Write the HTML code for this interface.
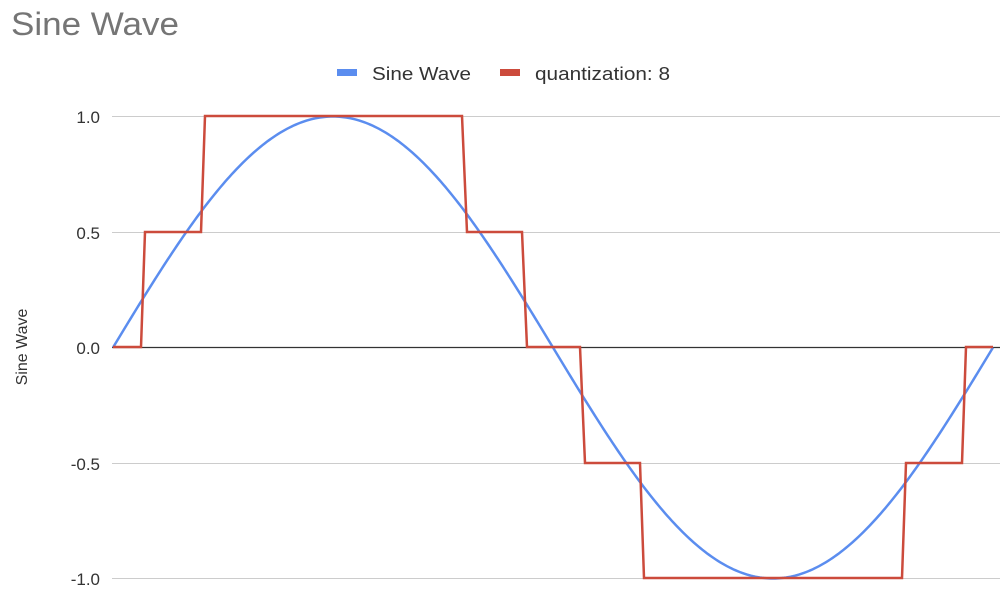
<!DOCTYPE html>
<html><head><style>
body{margin:0;background:#fff;width:1007px;height:591px;overflow:hidden;font-family:"Liberation Sans",Arial,sans-serif}
</style></head><body>
<svg width="1007" height="591" xmlns="http://www.w3.org/2000/svg" font-family="Liberation Sans, Arial, sans-serif">
<text x="11" y="35" font-size="32" fill="#757575" textLength="168" lengthAdjust="spacingAndGlyphs">Sine Wave</text>
<rect x="337" y="69" width="20" height="7" fill="#5b8def"/>
<text x="372" y="80" font-size="18" fill="#333" textLength="99" lengthAdjust="spacingAndGlyphs">Sine Wave</text>
<rect x="500" y="69" width="20" height="7" fill="#cc4b3c"/>
<text x="535" y="80" font-size="18" fill="#333" textLength="135" lengthAdjust="spacingAndGlyphs">quantization: 8</text>
<g stroke="#cccccc" stroke-width="1">
<line x1="112" x2="1000" y1="116.5" y2="116.5"/>
<line x1="112" x2="1000" y1="232.5" y2="232.5"/>
<line x1="112" x2="1000" y1="463.5" y2="463.5"/>
<line x1="112" x2="1000" y1="578.5" y2="578.5"/>
</g>
<line x1="112" x2="1000" y1="347.5" y2="347.5" stroke="#333" stroke-width="1.2"/>
<g font-size="17" fill="#333" text-anchor="end">
<text x="100" y="123">1.0</text>
<text x="100" y="239">0.5</text>
<text x="100" y="354">0.0</text>
<text x="100" y="470">-0.5</text>
<text x="100" y="585">-1.0</text>
</g>
<text transform="translate(27,347) rotate(-90)" font-size="16" fill="#333" text-anchor="middle">Sine Wave</text>
<polyline fill="none" stroke="#5b8def" stroke-width="2.5" id="s"/>
<polyline fill="none" stroke="#cc4b3c" stroke-width="2.5" stroke-linejoin="miter" points="113,347 141,347 145,232 201,232 205,116 462,116 467,232 522,232 527,347 580,347 585,463 640,463 644,578 902,578 906,463 962,463 966,347 993,347"/>
</svg>
<script>
var p=[];for(var i=0;i<=400;i++){var t=i/400;p.push((113+880*t).toFixed(2)+","+(347.5-231*Math.sin(2*Math.PI*t)).toFixed(2));}
document.getElementById("s").setAttribute("points",p.join(" "));
</script>
</body></html>
